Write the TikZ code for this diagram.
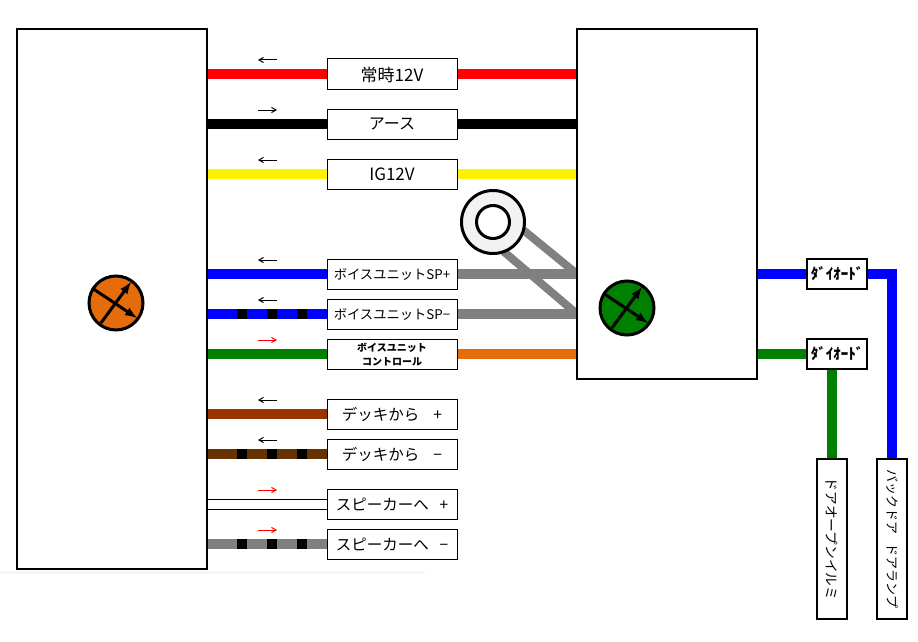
\documentclass[tikz,border=0pt]{standalone}
\usepackage{fontspec}
\setmainfont{Noto Sans CJK JP}
\usetikzlibrary{arrows,positioning,backgrounds}

\tikzset{
  unitbox/.style={draw,fill=white,line width=2pt,inner sep=0pt,outer sep=0pt},
  tagbox/.style={draw,fill=white,line width=1pt,inner sep=0pt,outer sep=0pt,minimum width=130pt,minimum height=30pt,align=center,text depth=0pt,font=\fontsize{15.5}{18}\selectfont},
  diodebox/.style={draw,fill=white,line width=2pt,inner sep=0pt,outer sep=0pt,minimum width=60pt,minimum height=30pt,font=\fontsize{15}{18}\bfseries\selectfont},
  lampbox/.style={draw,fill=white,line width=2pt,inner sep=0pt,outer sep=0pt,minimum width=160pt,minimum height=30pt,rotate=-90},
  meter/.style={draw,circle,line width=3pt,minimum size=54pt,inner sep=0pt},
  needle/.style={line width=3pt,-latex},
  wire/.style={line width=10pt},
  stripe/.style={line width=10pt,black,dash pattern=on 0pt off 30pt on 10pt off 20pt on 10pt off 20pt on 10pt off 20pt},
  flow/.style={line width=1pt,->,>=angle 60},
}
\definecolor{meterorange}{HTML}{E46C0A}
\definecolor{deckbrown}{HTML}{993300}
\definecolor{deckdark}{HTML}{663300}
\definecolor{ringgray}{HTML}{F2F2F2}

\begin{document}
\begin{tikzpicture} [x=1pt,y=-1pt,node distance=50pt]

  \useasboundingbox (0,0) rectangle (918,642);

  \fill[black!3] (0,571) rectangle (425,574);

  % main units
  \node[unitbox,minimum width=190pt,minimum height=540pt] (left) at (112,299) {};
  \node[unitbox,minimum width=180pt,minimum height=350pt] (right) at (667,204) {};

  % labels in the middle
  \node[tagbox,font=\fontsize{17}{20}\selectfont] (lab1) at (392,74) {常時12V};
  \node[tagbox,font=\fontsize{16}{20}\selectfont] (lab2) [below of=lab1] {アース};
  \node[tagbox,font=\fontsize{17}{20}\selectfont] (lab3) [below of=lab2] {IG12V};
  \node[tagbox,font=\fontsize{13.3}{15}\selectfont] (lab4) [below of=lab3, node distance=100pt] {ボイスユニットSP+};
  \node[tagbox,font=\fontsize{13.3}{15}\selectfont] (lab5) [below of=lab4, node distance=40pt] {ボイスユニットSP−};
  \node[tagbox,font=\fontsize{10}{14}\bfseries\selectfont] (lab6) [below of=lab5, node distance=40pt] {ボイスユニット\\コントロール};
  \node[tagbox] (lab7) [below of=lab6, node distance=60pt] {デッキから\hspace{.9em}+};
  \node[tagbox] (lab8) [below of=lab7, node distance=40pt] {デッキから\hspace{.9em}−};
  \node[tagbox] (lab9) [below of=lab8, node distance=50pt] {スピーカーへ\hspace{.7em}+};
  \node[tagbox] (lab10) [below of=lab9, node distance=40pt] {スピーカーへ\hspace{.7em}−};

  % right hand side
  \node[diodebox] (diode1) at (837,274) {ﾀﾞｲｵｰﾄﾞ};
  \node[diodebox] (diode2) at (837,354) {ﾀﾞｲｵｰﾄﾞ};
  \node[lampbox,font=\fontsize{13.7}{16}\selectfont] (lamp1) at (832,539) {ドアオープンイルミ};
  \node[lampbox,font=\fontsize{13}{16}\selectfont] (lamp2) at (892,539) {バックドア\hspace{.7em}ドアランプ};

  % round things
  \node[draw,circle,fill=ringgray,line width=3pt,minimum size=63pt,inner sep=0pt,outer sep=0pt] (ring) at (493,222) {};
  \node[draw,circle,fill=white,line width=3pt,minimum size=33pt,inner sep=0pt] (hole) at (493,222) {};
  \node[meter,fill=meterorange] (meter1) at (116,303) {};
  \node[meter,fill=green!50!black] (meter2) at (627,308) {};
  \draw[needle] ([shift={(-24,-15)}]meter1.center) -- ([shift={(21,15)}]meter1.center);
  \draw[needle] ([shift={(-15,20)}]meter1.center) -- ([shift={(15,-21)}]meter1.center);
  \draw[needle] ([shift={(-24,-15)}]meter2.center) -- ([shift={(21,15)}]meter2.center);
  \draw[needle] ([shift={(-15,20)}]meter2.center) -- ([shift={(15,-21)}]meter2.center);

  \begin{scope}[on background layer]
    \draw[wire,red] (left.east |- lab1) -- (lab1.west);
    \draw[wire,red] (lab1.east) -- (right.west |- lab1);
    \draw[wire,black] (left.east |- lab2) -- (lab2.west);
    \draw[wire,black] (lab2.east) -- (right.west |- lab2);
    \draw[wire,yellow] (left.east |- lab3) -- (lab3.west);
    \draw[wire,yellow] (lab3.east) -- (right.west |- lab3);
    \draw[wire,blue] (left.east |- lab4) -- (lab4.west);
    \draw[wire,gray] (lab4.east) -- (right.west |- lab4);
    \draw[wire,blue] (left.east |- lab5) -- (lab5.west);
    \draw[stripe] (left.east |- lab5) -- (lab5.west);
    \draw[wire,gray] (lab5.east) -- (right.west |- lab5);
    \draw[wire,green!50!black] (left.east |- lab6) -- (lab6.west);
    \draw[wire,meterorange] (lab6.east) -- (right.west |- lab6);
    \draw[wire,deckbrown] (left.east |- lab7) -- (lab7.west);
    \draw[wire,deckdark] (left.east |- lab8) -- (lab8.west);
    \draw[stripe] (left.east |- lab8) -- (lab8.west);
    \draw[line width=1pt,double=white,double distance=9pt] (left.east |- lab9) -- (lab9.west);
    \draw[wire,gray] (left.east |- lab10) -- (lab10.west);
    \draw[stripe] (left.east |- lab10) -- (lab10.west);

    \draw[line width=8pt,gray] (ring.-15) -- (right.west |- lab4);
    \draw[line width=8pt,gray] (ring.-70) -- (right.west |- lab5);

    \draw[wire,blue] (right.east |- diode1) -- (diode1.west);
    \draw[wire,green!50!black] (right.east |- diode2) -- (diode2.west);
    \draw[wire,blue] (diode1.east) -| (lamp2.west);
    \draw[wire,green!50!black] (diode2.south -| lamp1) -- (lamp1.west);
  \end{scope}

  % direction marks
  \foreach \n/\col/\bend in {1/black/a,2/black/b,3/black/a,4/black/a,5/black/a,6/red/b,7/black/a,8/black/a,9/red/b,10/red/b} {
    \coordinate (a\n) at ([shift={(-69,1)}]lab\n.north west);
    \coordinate (b\n) at ([shift={(-50,1)}]lab\n.north west);
    \if\bend a
      \draw[flow,\col] (b\n) -- (a\n);
    \else
      \draw[flow,\col] (a\n) -- (b\n);
    \fi
  }

\end{tikzpicture}
\end{document}
